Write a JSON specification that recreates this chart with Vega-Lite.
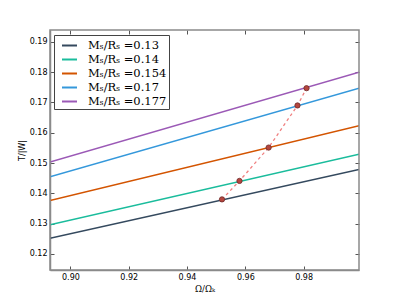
{
  "$schema": "https://vega.github.io/schema/vega-lite/v6.json",
  "autosize": "none",
  "width": 309,
  "height": 240,
  "padding": {"left": 50, "top": 30, "right": 40, "bottom": 31},
  "background": "white",
  "config": {
    "view": {"stroke": null},
    "axis": {
      "grid": false,
      "domainColor": "#8a8a8a",
      "domainWidth": 1.5,
      "tickColor": "#555555",
      "tickSize": -4,
      "labelFont": "DejaVu Sans",
      "labelFontSize": 8,
      "labelColor": "#000000",
      "titleFont": "DejaVu Sans",
      "titleFontSize": 8,
      "titleFontWeight": "normal",
      "titleColor": "#000000"
    }
  },
  "datasets": {
    "lines": [
      {"series": "Mₛ/Rₛ =0.13", "x": 0.893, "y": 0.1252},
      {"series": "Mₛ/Rₛ =0.13", "x": 0.999, "y": 0.1479},
      {"series": "Mₛ/Rₛ =0.14", "x": 0.893, "y": 0.1296},
      {"series": "Mₛ/Rₛ =0.14", "x": 0.999, "y": 0.1529},
      {"series": "Mₛ/Rₛ =0.154", "x": 0.893, "y": 0.1376},
      {"series": "Mₛ/Rₛ =0.154", "x": 0.999, "y": 0.1623},
      {"series": "Mₛ/Rₛ =0.17", "x": 0.893, "y": 0.1455},
      {"series": "Mₛ/Rₛ =0.17", "x": 0.999, "y": 0.1747},
      {"series": "Mₛ/Rₛ =0.177", "x": 0.893, "y": 0.1503},
      {"series": "Mₛ/Rₛ =0.177", "x": 0.999, "y": 0.1800}
    ],
    "points": [
      {"x": 0.9520, "y": 0.1380},
      {"x": 0.9580, "y": 0.1441},
      {"x": 0.9680, "y": 0.1551},
      {"x": 0.9779, "y": 0.1690},
      {"x": 0.9810, "y": 0.1747}
    ]
  },
  "layer": [
    {
      "data": {"name": "lines"},
      "mark": {"type": "line", "strokeWidth": 1.5, "clip": true},
      "encoding": {
        "x": {
          "field": "x", "type": "quantitative",
          "scale": {"domain": [0.893, 0.999], "nice": false, "zero": false},
          "axis": {"title": "Ω/Ωₖ", "titleFont": "DejaVu Serif", "titleFontSize": 8.5, "values": [0.90, 0.92, 0.94, 0.96, 0.98], "format": ".2f", "labelPadding": 7, "titlePadding": 3}
        },
        "y": {
          "field": "y", "type": "quantitative",
          "scale": {"domain": [0.1147, 0.1939], "nice": false, "zero": false},
          "axis": {"title": "T/|W|", "values": [0.12, 0.13, 0.14, 0.15, 0.16, 0.17, 0.18, 0.19], "format": ".2f", "labelPadding": 7, "titlePadding": 3}
        },
        "color": {
          "field": "series", "type": "nominal",
          "scale": {
            "domain": ["Mₛ/Rₛ =0.13", "Mₛ/Rₛ =0.14", "Mₛ/Rₛ =0.154", "Mₛ/Rₛ =0.17", "Mₛ/Rₛ =0.177"],
            "range": ["#34495e", "#1abc9c", "#d35400", "#3498db", "#9b59b6"]
          },
          "legend": {
            "orient": "none",
            "legendX": 4,
            "legendY": 5,
            "title": null,
            "symbolType": "stroke",
            "symbolSize": 225,
            "symbolStrokeWidth": 2,
            "symbolOffset": 5,
            "labelFont": "DejaVu Serif",
            "labelFontSize": 11.5,
            "labelColor": "#000000",
            "rowPadding": 0,
            "labelOffset": 10,
            "padding": 2,
            "strokeColor": "#444444",
            "fillColor": "white",
            "cornerRadius": 0
          }
        }
      }
    },
    {
      "data": {"name": "points"},
      "mark": {"type": "line", "strokeDash": [3, 3], "color": "#f08080", "strokeWidth": 1.3},
      "encoding": {
        "x": {"field": "x", "type": "quantitative", "axis": {"orient": "top", "title": null, "labels": false, "values": [0.90, 0.92, 0.94, 0.96, 0.98], "domain": false}},
        "y": {"field": "y", "type": "quantitative", "axis": {"orient": "right", "title": null, "labels": false, "values": [0.12, 0.13, 0.14, 0.15, 0.16, 0.17, 0.18, 0.19], "domain": false}}
      }
    },
    {
      "data": {"name": "points"},
      "mark": {"type": "point", "filled": true, "size": 28, "color": "#b5463e", "stroke": "#6e2b2b", "strokeWidth": 0.8, "opacity": 1},
      "encoding": {
        "x": {"field": "x", "type": "quantitative", "axis": null},
        "y": {"field": "y", "type": "quantitative", "axis": null}
      }
    },
    {
      "data": {"values": [{"x": 0.893, "y": 0.1147, "x2": 0.999, "y2": 0.1939}]},
      "mark": {"type": "rect", "fill": null, "stroke": "#8a8a8a", "strokeWidth": 1.5},
      "encoding": {
        "x": {"field": "x", "type": "quantitative", "axis": null},
        "x2": {"field": "x2"},
        "y": {"field": "y", "type": "quantitative", "axis": null},
        "y2": {"field": "y2"}
      }
    }
  ],
  "resolve": {"axis": {"x": "independent", "y": "independent"}}
}
